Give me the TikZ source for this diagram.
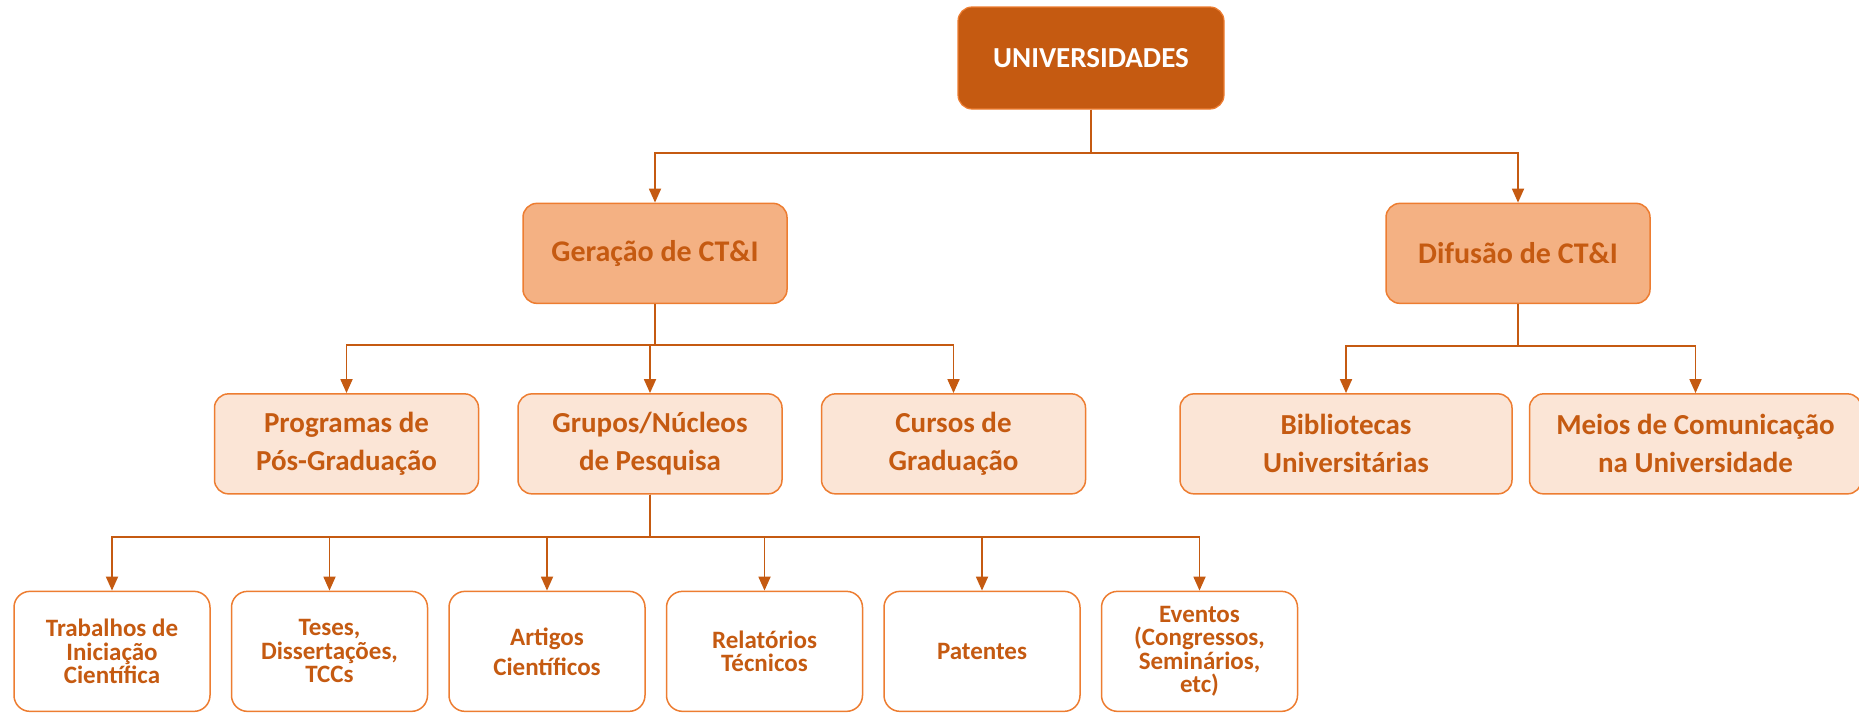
\documentclass[tikz,border=0pt]{standalone}
\usepackage{fontspec}
\setmainfont{Carlito}
\usepackage{tikz}
\usetikzlibrary{positioning}
\usetikzlibrary{arrows.meta}

\definecolor{rust}{HTML}{C55A11}
\definecolor{tangerine}{HTML}{ED7D31}
\definecolor{apricot}{HTML}{F4B183}
\definecolor{peach}{HTML}{FBE5D6}

\tikzset{
  topbox/.style={fill=rust, draw=tangerine, line width=1.2pt, rounded corners=14pt,
    minimum width=266pt, minimum height=102pt, text=white,
    font=\fontsize{29}{33}\selectfont\bfseries},
  midbox/.style={fill=apricot, draw=tangerine, line width=1.5pt, rounded corners=14pt,
    minimum width=264pt, minimum height=100pt, text=rust,
    font=\fontsize{30}{34}\selectfont\bfseries},
  subbox/.style={fill=peach, draw=tangerine, line width=1.5pt, rounded corners=14pt,
    minimum width=264pt, minimum height=100pt, text=rust, align=center,
    font=\fontsize{29}{38}\selectfont\bfseries},
  leafbox/.style={fill=white, draw=tangerine, line width=1.5pt, rounded corners=16pt,
    minimum width=196pt, minimum height=120pt, text=rust, align=center,
    font=\fontsize{25}{23.5}\selectfont\bfseries},
  link/.style={draw=rust, line width=1.8pt, -{Triangle[width=12pt,length=14pt]}}
}

\begin{document}
\begin{tikzpicture}[x=1pt, y=1pt]
    \useasboundingbox (0,0) rectangle (1859,-712);

    \node[topbox] (uni) at (1091,-58) {UNIVERSIDADES};
    \node[midbox] (gera) [below=93pt of uni, xshift=-436pt] {Geração de CT\&I};
    \node[midbox] (difu) [below=93pt of uni, xshift=427pt] {Difusão de CT\&I};

    % segundo nivel
    \node[subbox] (grup) [below=89pt of gera, xshift=-5pt] {Grupos/Núcleos\\de Pesquisa};
    \node[subbox] (prog) [left=38pt of grup] {Programas de\\Pós-Graduação};
    \node[subbox] (curs) [right=38pt of grup] {Cursos de\\Graduação};
    \node[subbox, minimum width=332pt] (bibl) [below=89pt of difu, xshift=-172pt] {Bibliotecas\\Universitárias};
    \node[subbox, minimum width=332pt] (meio) [right=16pt of bibl] {Meios de Comunicação\\na Universidade};

    % terceiro nivel
    \node[leafbox] (trab) [below=96pt of grup, xshift=-538pt] {Trabalhos de\\Iniciação\\Científica};
    \node[leafbox] (tese) [right=20pt of trab] {Teses,\\Dissertações,\\TCCs};
    \node[leafbox, font=\fontsize{25}{30}\selectfont\bfseries] (arti) [right=20pt of tese] {Artigos\\Científicos};
    \node[leafbox] (rela) [right=20pt of arti] {Relatórios\\Técnicos};
    \node[leafbox] (pate) [right=20pt of rela] {Patentes};
    \node[leafbox] (even) [right=20pt of pate] {Eventos\\(Congressos,\\Seminários,\\etc)};

    \foreach \n in {gera,difu}
      \draw[link] (uni.south) -- ++(0,-43pt) -| (\n.north);
    \foreach \n in {prog,grup,curs}
      \draw[link] (gera.south) -- ++(0,-41pt) -| (\n.north);
    \foreach \n in {bibl,meio}
      \draw[link] (difu.south) -- ++(0,-42pt) -| (\n.north);
    \foreach \n in {trab,tese,arti,rela,pate,even}
      \draw[link] (grup.south) -- ++(0,-42pt) -| (\n.north);
\end{tikzpicture}
\end{document}
